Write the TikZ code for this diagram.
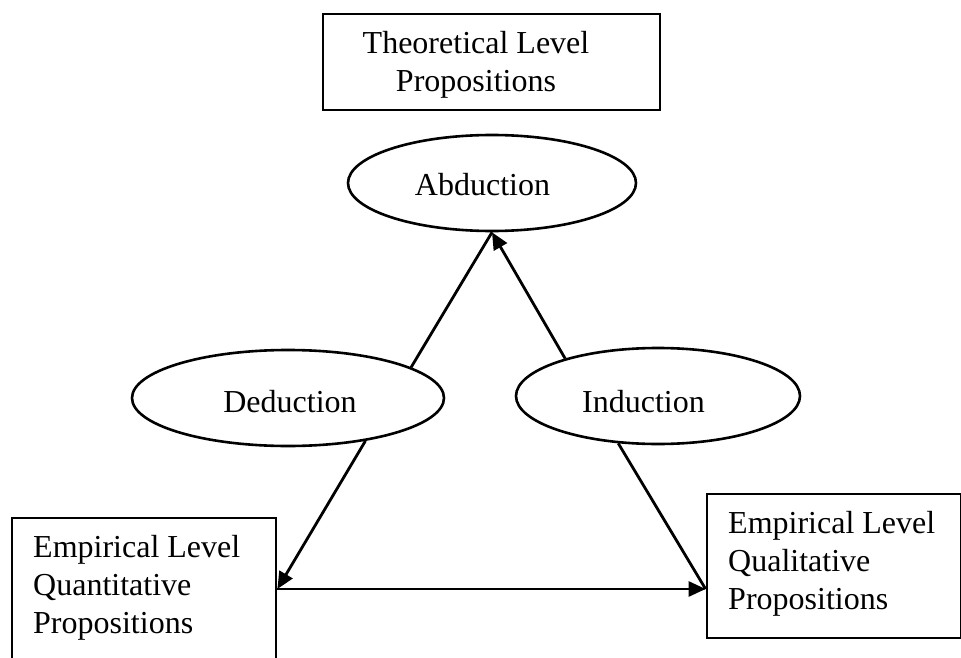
\documentclass[tikz,border=0pt]{standalone}
\usepackage{fontspec}
\setmainfont{Liberation Serif}
\usetikzlibrary{shapes.geometric,arrows.meta}
\begin{document}
\begin{tikzpicture}[x=1pt,y=-1pt,
  box/.style={draw, line width=2.8pt, inner sep=0pt},
  oval/.style={ellipse, draw, line width=2.6pt, inner sep=0pt},
  txt/.style={font=\fontsize{32}{38}\selectfont, inner sep=0pt},
  conn/.style={line width=2.8pt},
  arr/.style={-{Triangle[length=17pt,width=15pt]}}]
\useasboundingbox (0,0) rectangle (961,658);

% boxes
\node[box, minimum width=337pt, minimum height=96pt] (top) at (491.5,62) {};
\node[box, minimum width=264pt, minimum height=142pt] (lbox) at (144,589) {};
\node[box, minimum width=254pt, minimum height=144pt] (rbox) at (834,566) {};

% ellipses
\node[oval, minimum width=288pt, minimum height=96pt] (abd) at (492,183) {};
\node[oval, minimum width=312pt, minimum height=96pt] (ded) at (288,398) {};
\node[oval, minimum width=284pt, minimum height=96pt] (ind) at (658,396) {};

% labels
\node[txt, align=center, anchor=north] (ttext) at (476,31) {Theoretical Level\\Propositions};
\node[txt, align=left, anchor=north west] (ltext) at (33,535) {Empirical Level\\Quantitative\\Propositions};
\node[txt, align=left, anchor=north west] (rtext) at (728,511) {Empirical Level\\Qualitative\\Propositions};
\node[txt, anchor=base] (abdtext) at (482.5,195) {Abduction};
\node[txt, anchor=base] (dedtext) at (290,412) {Deduction};
\node[txt, anchor=base] (indtext) at (643.5,412) {Induction};

% connectors
\coordinate (rin) at (lbox.east -| rbox.west);
\draw[conn] (ded.14) -- (abd.south);
\draw[conn, arr] (ind.158) -- (abd.south);
\draw[conn, arr] (ded.-29) -- (lbox.east);
\draw[conn, arr] (lbox.east) -- (rin);
\draw[conn] (ind.230) -- (rin);
\end{tikzpicture}
\end{document}
